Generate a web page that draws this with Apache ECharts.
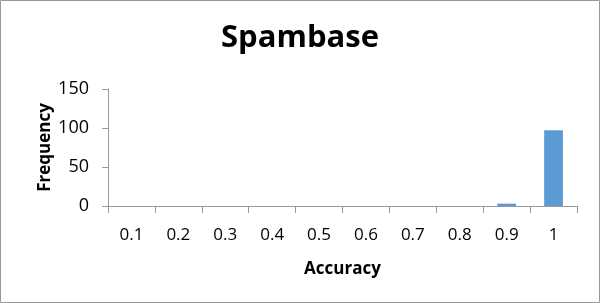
<!DOCTYPE html>
<html><head><meta charset="utf-8">
<script src="https://cdn.jsdelivr.net/npm/echarts@6/dist/echarts.min.js"></script>
<style>html,body{margin:0;padding:0;background:#fff}#c{width:600px;height:303px}</style>
</head><body><div id="c"></div>
<script>
const categories = ['0.1','0.2','0.3','0.4','0.5','0.6','0.7','0.8','0.9','1'];
const frequency = [0,0,0,0,0,0,0,0,3,97];
const yTicks = {min:0, max:150, interval:50};
const titleText = 'Spambase';
const xName = 'Accuracy';
const yName = 'Frequency';

const chart = echarts.init(document.getElementById('c'));
const font = '"Open Sans", "Liberation Sans", sans-serif';
chart.setOption({
  animation:false,
  title:{text:titleText,left:'center',top:18,textStyle:{fontFamily:font,fontWeight:'bold',fontSize:31,color:'#000'}},
  grid:{left:108,right:23,top:89,bottom:97},
  graphic:[{type:'rect',shape:{x:0.5,y:0.5,width:599,height:302},style:{fill:'none',stroke:'#999',lineWidth:1}}],
  xAxis:{type:'category',data:categories,name:xName,nameLocation:'middle',nameGap:55,
    nameTextStyle:{fontFamily:font,fontWeight:'bold',fontSize:17,color:'#000'},
    axisLine:{lineStyle:{color:'#999'}},axisTick:{show:true,length:7,lineStyle:{color:'#999'}},
    axisLabel:{fontFamily:font,fontSize:17,color:'#000',margin:21}},
  yAxis:{type:'value',min:yTicks.min,max:yTicks.max,interval:yTicks.interval,name:yName,nameLocation:'middle',nameGap:54,
    nameMoveOverlap:false,
    nameTextStyle:{fontFamily:font,fontWeight:'bold',fontSize:17,color:'#000'},
    axisLine:{show:true,lineStyle:{color:'#999'}},axisTick:{show:true,length:6,lineStyle:{color:'#999'}},
    splitLine:{show:false},
    axisLabel:{fontFamily:font,fontSize:18,color:'#000',margin:19}},
  series:[{type:'bar',data:frequency,barWidth:'40%',itemStyle:{color:'#5b9bd5'}}]
});
</script></body></html>
